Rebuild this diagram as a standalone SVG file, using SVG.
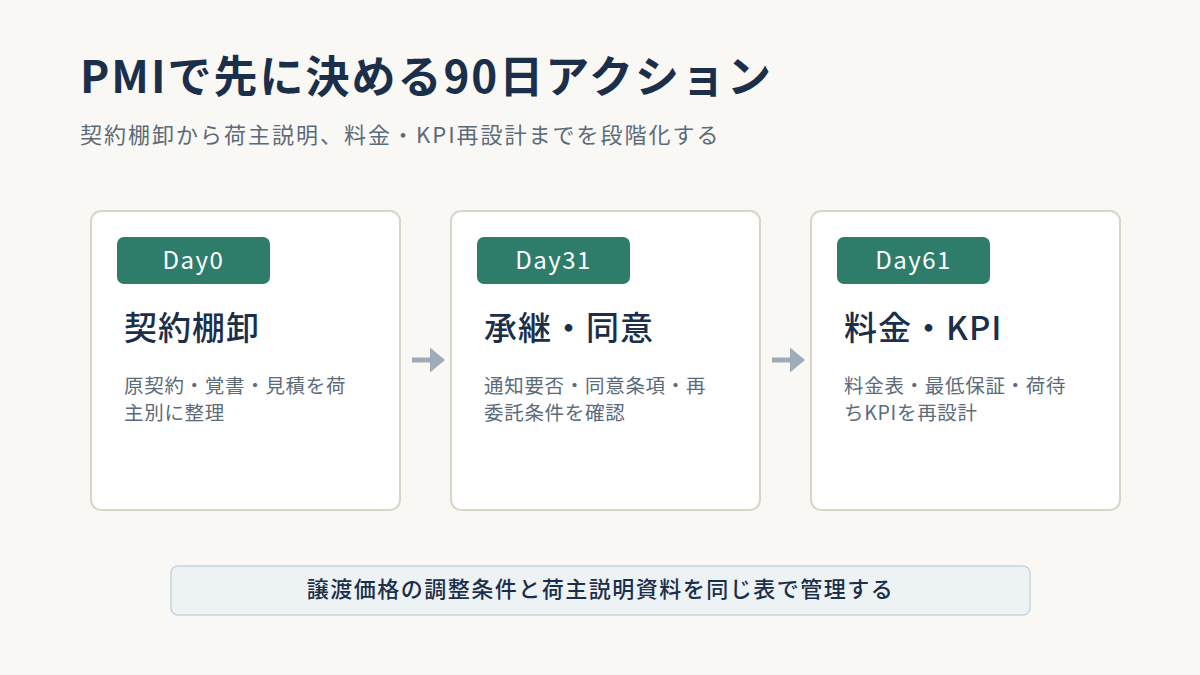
<svg xmlns="http://www.w3.org/2000/svg" width="1200" height="675" viewBox="0 0 1200 675">
<defs>
<style>
.t{font-family:"Noto Sans CJK JP","Noto Sans",sans-serif}
.card{fill:#fff;stroke:#d9d5c8;stroke-width:2}
.badge{fill:#2e7d6b}
.bt{fill:#fff;font-size:24px;letter-spacing:1.5px}
.h{fill:#1b2f4a;font-size:33px;font-weight:500;letter-spacing:1px}
.b{fill:#5b6b7a;font-size:19.5px;letter-spacing:0.7px}
</style>
<marker id="ar" markerWidth="4" markerHeight="5" refX="2" refY="2.5" orient="auto" markerUnits="strokeWidth"><path d="M0,0L3,2.5L0,5z" fill="#9eacb8"/></marker>
</defs>
<rect width="1200" height="675" fill="#f9f8f4"/>
<text class="t" x="80" y="93" font-size="44" font-weight="700" fill="#1b2f4a" letter-spacing="2">PMIで先に決める90日アクション</text>
<text class="t" x="80" y="143" font-size="22" fill="#5b6b7a" letter-spacing="2">契約棚卸から荷主説明、料金・KPI再設計までを段階化する</text>
<g id="connectors">
<line x1="412" y1="360" x2="440" y2="360" stroke="#9eacb8" stroke-width="5" marker-end="url(#ar)"/>
<line x1="772" y1="360" x2="800" y2="360" stroke="#9eacb8" stroke-width="5" marker-end="url(#ar)"/>
</g>
<g id="n1"><rect class="card" x="91" y="211" width="309" height="299" rx="10"/>
<rect class="badge" x="117" y="237" width="153" height="47" rx="7"/><text class="t bt" x="193.5" y="269" text-anchor="middle">Day0</text>
<text class="t h" x="124" y="340">契約棚卸</text>
<text class="t b" x="124" y="393">原契約・覚書・見積を荷</text><text class="t b" x="124" y="420">主別に整理</text></g>
<g id="n2"><rect class="card" x="451" y="211" width="309" height="299" rx="10"/>
<rect class="badge" x="477" y="237" width="153" height="47" rx="7"/><text class="t bt" x="553.5" y="269" text-anchor="middle">Day31</text>
<text class="t h" x="484" y="340">承継・同意</text>
<text class="t b" x="484" y="393">通知要否・同意条項・再</text><text class="t b" x="484" y="420">委託条件を確認</text></g>
<g id="n3"><rect class="card" x="811" y="211" width="309" height="299" rx="10"/>
<rect class="badge" x="837" y="237" width="153" height="47" rx="7"/><text class="t bt" x="913.5" y="269" text-anchor="middle">Day61</text>
<text class="t h" x="844" y="340">料金・KPI</text>
<text class="t b" x="844" y="393">料金表・最低保証・荷待</text><text class="t b" x="844" y="420">ちKPIを再設計</text></g>
<g id="note"><rect x="171" y="566" width="859" height="49" rx="7" fill="#edf2f5" stroke="#c8d3dc" stroke-width="1.5"/>
<text class="t" x="600.5" y="597" text-anchor="middle" font-size="22" font-weight="500" fill="#1b2f4a" letter-spacing="1.5">譲渡価格の調整条件と荷主説明資料を同じ表で管理する</text></g>
</svg>
